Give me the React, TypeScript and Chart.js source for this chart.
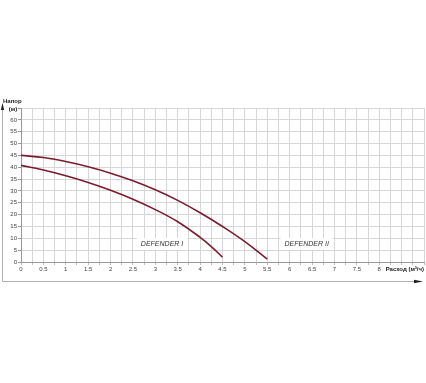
import React, { useEffect, useRef } from "react";
import { Chart, registerables } from "chart.js";

Chart.register(...registerables);

const flowI = [0, 0.5, 1, 1.5, 2, 2.5, 3, 3.5, 4, 4.25, 4.5];
const headI = [40.8, 38.8, 36.4, 33.6, 30.3, 26.5, 22.1, 17.0, 10.4, 6.5, 2.0];
const flowII = [0, 0.5, 1, 1.5, 2, 2.5, 3, 3.5, 4, 4.5, 5, 5.5];
const headII = [45, 44.1, 42.4, 40.2, 37.5, 34.3, 30.5, 26.0, 20.8, 15.0, 8.6, 1.2];
const seriesNames = ["DEFENDER I", "DEFENDER II"];
const labelX = [3.15, 6.38];
const labelY = [7.6, 7.6];
const yTitle = ["Напор", "(м)"];
const xTitle = "Расход (м³/ч)";

const LINE_COLOR = "#7b1c2c";

const overlay = {
  id: "overlay",
  beforeDatasetsDraw(chart: any) {
    const ctx = chart.ctx;
    const xs = chart.scales.x;
    const ys = chart.scales.y;
    ctx.save();
    ctx.font = "italic 7px 'Liberation Sans', Arial, sans-serif";
    ctx.textAlign = "center";
    ctx.textBaseline = "middle";
    seriesNames.forEach((name, i) => {
      const px = xs.getPixelForValue(labelX[i]);
      const py = ys.getPixelForValue(labelY[i]);
      const w = ctx.measureText(name).width + 8;
      ctx.fillStyle = "#ffffff";
      ctx.fillRect(px - w / 2, py - 6, w, 12);
      ctx.fillStyle = "#333333";
      ctx.fillText(name, px, py);
    });
    ctx.restore();
  },
  afterDraw(chart: any) {
    const ctx = chart.ctx;
    const area = chart.chartArea;
    ctx.save();
    ctx.strokeStyle = "#b0b0b0";
    ctx.lineWidth = 1;
    ctx.beginPath();
    ctx.moveTo(2.5, 281.5);
    ctx.lineTo(2.5, 106);
    ctx.moveTo(2.5, 281.5);
    ctx.lineTo(418, 281.5);
    ctx.stroke();
    ctx.fillStyle = "#222222";
    ctx.beginPath();
    ctx.moveTo(2.5, 103);
    ctx.lineTo(0.8, 110);
    ctx.lineTo(4.2, 110);
    ctx.closePath();
    ctx.fill();
    ctx.beginPath();
    ctx.moveTo(423, 281.5);
    ctx.lineTo(414, 279.8);
    ctx.lineTo(414, 283.2);
    ctx.closePath();
    ctx.fill();
    ctx.font = "bold 6px 'Liberation Sans', Arial, sans-serif";
    ctx.fillStyle = "#222222";
    ctx.textBaseline = "middle";
    ctx.textAlign = "left";
    ctx.fillText(yTitle[0], 3, 101);
    ctx.textAlign = "center";
    ctx.fillText(yTitle[1], 13, 109.5);
    ctx.textAlign = "right";
    ctx.fillText(xTitle, area.right, 269.5);
    ctx.restore();
  },
};

export default function App() {
  const ref = useRef<HTMLCanvasElement | null>(null);
  useEffect(() => {
    if (!ref.current) return;
    const chart = new Chart(ref.current, {
      type: "line",
      data: {
        datasets: [
          {
            label: seriesNames[0],
            data: flowI.map((x, i) => ({ x, y: headI[i] })),
            borderColor: LINE_COLOR,
            borderWidth: 1.6,
            pointRadius: 0,
            tension: 0.4,
            fill: false,
          },
          {
            label: seriesNames[1],
            data: flowII.map((x, i) => ({ x, y: headII[i] })),
            borderColor: LINE_COLOR,
            borderWidth: 1.6,
            pointRadius: 0,
            tension: 0.4,
            fill: false,
          },
        ],
      },
      options: {
        animation: false,
        responsive: false,
        devicePixelRatio: 1,
        layout: { padding: { top: 108, left: 0, right: 2, bottom: 101 } },
        plugins: { legend: { display: false }, tooltip: { enabled: false } },
        scales: {
          x: {
            type: "linear",
            min: 0,
            max: 9,
            afterFit: (s: any) => {
              s.height = 20;
            },
            border: { display: true, color: "#999999" },
            grid: { color: "#d6d6d6", tickLength: 3, tickColor: "#bbbbbb" },
            ticks: {
              stepSize: 0.25,
              autoSkip: false,
              maxRotation: 0,
              padding: 1,
              color: "#444444",
              font: { size: 6, family: "'Liberation Sans', Arial, sans-serif" },
              callback: (v: any) => {
                const n = Number(v);
                if (Math.abs(n * 2 - Math.round(n * 2)) > 1e-6) return "";
                if (n > 8.01) return "";
                return String(Math.round(n * 2) / 2);
              },
            },
          },
          y: {
            min: 0,
            max: 65,
            afterFit: (s: any) => {
              s.width = 21;
            },
            border: { display: true, color: "#999999" },
            grid: { color: "#d6d6d6", tickLength: 3, tickColor: "#999999" },
            ticks: {
              stepSize: 5,
              padding: 1,
              color: "#444444",
              font: { size: 6, family: "'Liberation Sans', Arial, sans-serif" },
              callback: (v: any) => (Number(v) > 60 ? "" : String(v)),
            },
          },
        },
      },
      plugins: [overlay],
    });
    return () => chart.destroy();
  }, []);
  return (
    <div style={{ position: "fixed", left: 0, top: 0, width: 426, height: 383, background: "#fff" }}>
      <canvas ref={ref} width={426} height={383} style={{ width: 426, height: 383, display: "block" }} />
    </div>
  );
}
